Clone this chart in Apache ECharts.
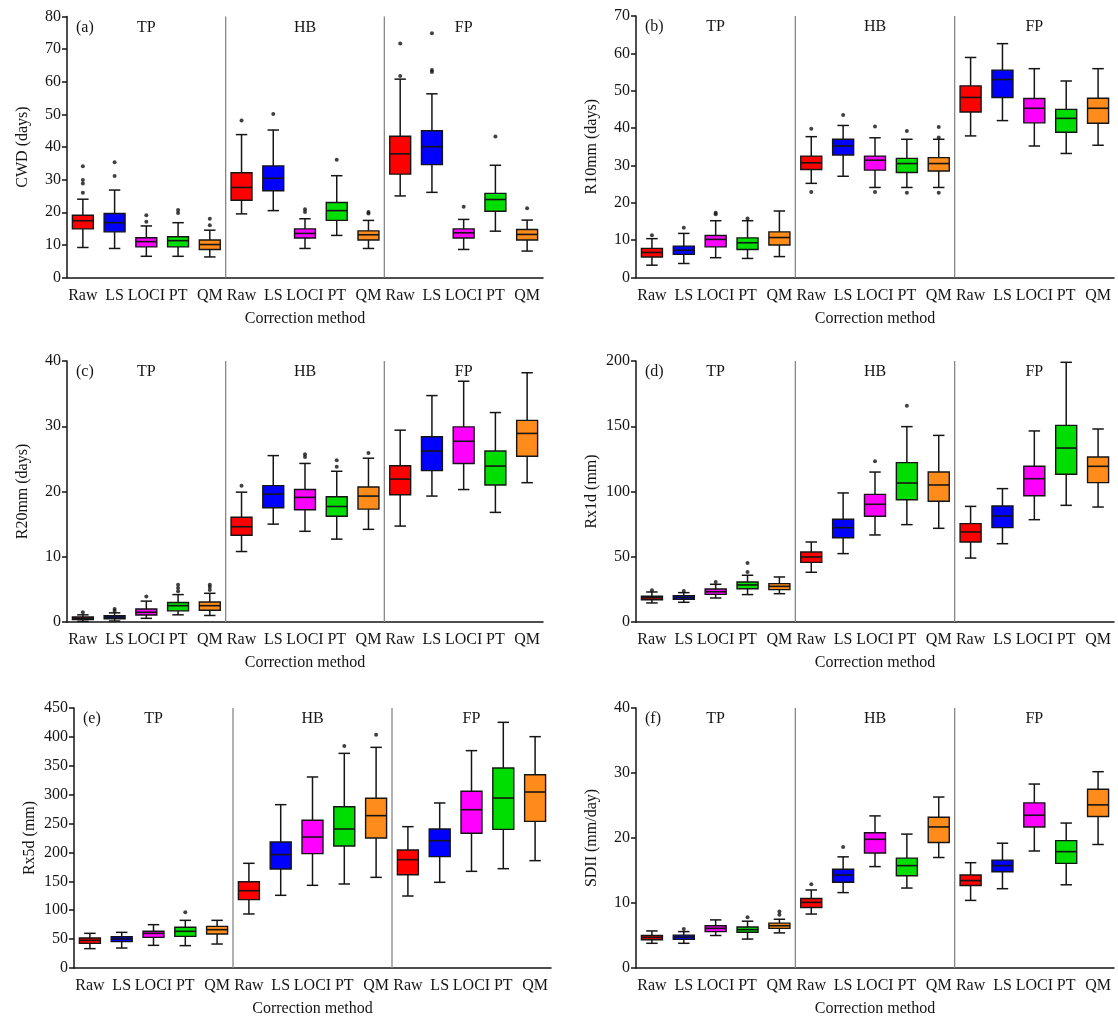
<!DOCTYPE html>
<html><head><meta charset="utf-8">
<script src="https://cdn.jsdelivr.net/npm/echarts@6/dist/echarts.min.js"></script>
<style>html,body{margin:0;padding:0;background:#fff}#c{width:1118px;height:1023px}</style>
</head><body><div id="c"></div>
<script>
// ---- categories ----
const regions = ['TP', 'HB', 'FP'];
const methods = ['Raw', 'LS', 'LOCI', 'PT', 'QM'];
const categories = [];
regions.forEach(r => methods.forEach(m => categories.push(r + '|' + m)));

// ---- box values: [lower whisker, Q1, median, Q3, upper whisker] per category ----
const cwdBox = [
  [9.2, 14.9, 17.4, 19.1, 24.0], [8.9, 14.0, 16.8, 19.6, 26.8], [6.5, 9.4, 11.0, 12.2, 15.8], [6.5, 9.4, 11.3, 12.5, 16.8], [6.3, 8.6, 10.1, 11.5, 14.5],
  [19.5, 23.7, 27.6, 32.1, 43.8], [20.5, 26.6, 30.4, 34.2, 45.2], [8.9, 12.1, 13.5, 14.9, 18.0], [12.9, 17.5, 20.5, 23.0, 31.2], [8.9, 11.5, 13.1, 14.3, 17.5],
  [25.0, 31.7, 37.9, 43.3, 60.8], [26.1, 34.6, 40.1, 45.0, 56.3], [8.6, 12.1, 13.7, 14.9, 17.8], [14.2, 20.3, 23.9, 25.8, 34.4], [8.1, 11.5, 13.2, 14.7, 17.6]
];
const cwdOut = [[0,34.1],[0,29.9],[0,28.8],[0,26.0],[1,35.3],[1,31.1],[2,19.1],[2,17.1],[3,20.7],[3,19.8],[4,18.0],[4,16.0],
  [5,48.1],[6,50.1],[7,20.9],[7,20.1],[8,36.1],[9,20.1],[9,19.6],[10,71.7],[10,61.8],[11,74.9],[11,63.6],[11,63.0],[12,21.7],[13,43.2],[14,21.2]];

const r10Box = [
  [3.3, 5.5, 6.7, 7.8, 10.4], [3.75, 6.2, 7.3, 8.4, 11.8], [5.3, 8.2, 10.2, 11.25, 15.2], [5.1, 7.5, 9.3, 10.6, 15.2], [5.6, 8.7, 10.7, 12.2, 17.8],
  [25.2, 28.9, 30.7, 32.5, 37.7], [27.1, 32.8, 35.2, 37.0, 40.7], [24.1, 28.75, 31.4, 32.5, 37.4], [24.1, 28.1, 30.5, 31.9, 37.0], [24.1, 28.5, 30.5, 32.1, 37.0],
  [37.9, 44.3, 48.2, 51.3, 58.9], [42.0, 48.2, 53.0, 55.5, 62.6], [35.2, 41.4, 45.3, 47.9, 55.9], [33.2, 38.9, 42.6, 45.0, 52.6], [35.4, 41.3, 45.3, 48.0, 55.9]
];
const r10Out = [[0,11.3],[1,13.3],[2,17.3],[2,16.9],[3,15.8],[5,39.8],[5,22.9],[6,43.5],[7,40.4],[7,22.9],[8,39.2],[8,22.7],[9,40.3],[9,37.5],[9,22.7]];

const r20Box = [
  [0.1, 0.36, 0.56, 0.76, 1.1], [0.15, 0.5, 0.76, 0.97, 1.4], [0.56, 1.07, 1.5, 2.0, 3.2], [1.1, 1.7, 2.5, 3.0, 4.2], [1.0, 1.8, 2.5, 3.06, 4.4],
  [10.8, 13.3, 14.6, 16.05, 19.9], [15.0, 17.5, 19.6, 20.9, 25.5], [13.9, 17.2, 19.1, 20.3, 24.3], [12.7, 16.2, 17.7, 19.2, 23.1], [14.2, 17.3, 19.3, 20.7, 25.1],
  [14.7, 19.5, 21.9, 23.95, 29.4], [19.3, 23.2, 26.2, 28.4, 34.7], [20.3, 24.3, 27.7, 29.9, 36.9], [16.8, 21.0, 23.9, 26.2, 32.1], [21.35, 25.4, 28.9, 30.9, 38.2]
];
const r20Out = [[0,1.5],[1,2.0],[1,1.7],[2,3.9],[3,5.7],[3,5.2],[3,4.7],[4,5.7],[4,5.35],[4,4.9],[5,20.9],[7,25.7],[7,25.3],[8,24.8],[8,23.8],[9,25.9]];

const rx1Box = [
  [14.6, 17.1, 18.6, 19.7, 23.0], [15.1, 17.4, 18.9, 20.2, 22.5], [18.4, 21.2, 23.2, 25.3, 28.9], [21.0, 25.5, 28.4, 30.7, 35.8], [21.7, 24.8, 27.3, 29.4, 34.5],
  [38.1, 45.7, 49.8, 53.6, 61.3], [52.4, 64.6, 72.3, 78.7, 98.9], [66.7, 81.0, 90.2, 97.8, 114.9], [74.6, 93.7, 106.5, 122.1, 149.7], [71.8, 92.5, 105.0, 114.9, 143.0],
  [49.0, 61.3, 69.0, 75.4, 88.6], [60.0, 72.3, 81.2, 88.9, 102.2], [78.4, 96.8, 109.8, 119.3, 146.4], [89.4, 113.2, 133.3, 150.7, 199.0], [88.1, 106.8, 119.3, 126.4, 147.9]
];
const rx1Out = [[0,24.3],[1,23.8],[2,30.7],[3,45.2],[3,38.3],[7,123.1],[8,165.8]];

const rx5Box = [
  [33.5, 42.7, 47.9, 52.0, 60.0], [34.6, 45.6, 50.2, 54.2, 61.7], [39.2, 53.0, 60.0, 63.5, 75.0], [38.7, 54.8, 63.5, 70.4, 82.5], [41.5, 58.8, 66.3, 72.1, 82.5],
  [93.5, 118.3, 133.8, 149.4, 181.2], [125.8, 171.3, 196.2, 218.1, 282.7], [143.1, 197.9, 226.7, 255.6, 330.6], [145.4, 211.2, 240.6, 279.2, 371.5], [156.9, 225.0, 263.7, 293.7, 381.9],
  [124.6, 161.5, 187.5, 204.2, 244.6], [148.3, 192.7, 220.4, 240.6, 285.6], [167.3, 233.1, 274.0, 305.8, 376.2], [171.9, 240.0, 294.2, 346.2, 425.2], [185.8, 253.8, 304.6, 334.6, 400.4]
];
const rx5Out = [[3,96.3],[8,384.2],[9,403.8]];

const sdiiBox = [
  [3.8, 4.35, 4.7, 5.0, 5.7], [3.8, 4.4, 4.76, 5.06, 5.6], [5.0, 5.6, 6.1, 6.5, 7.4], [4.45, 5.5, 5.9, 6.3, 7.2], [5.4, 6.1, 6.5, 6.9, 7.5],
  [8.3, 9.3, 10.1, 10.7, 12.0], [11.6, 13.2, 14.3, 15.2, 17.1], [15.6, 17.7, 19.8, 20.8, 23.4], [12.3, 14.2, 15.75, 16.9, 20.6], [17.0, 19.3, 21.7, 23.2, 26.3],
  [10.4, 12.7, 13.45, 14.3, 16.2], [12.2, 14.8, 15.75, 16.6, 19.2], [18.0, 21.7, 23.5, 25.4, 28.3], [12.8, 16.1, 17.9, 19.6, 22.3], [19.0, 23.3, 25.1, 27.5, 30.2]
];
const sdiiOut = [[1,6.0],[3,7.8],[4,8.7],[4,8.2],[5,12.9],[6,18.6]];

// ---- axis settings (tick ranges) ----
const yMax = [80, 70, 40, 200, 450, 40];
const yStep = [10, 10, 10, 50, 50, 10];
const yNames = ['CWD (days)', 'R10mm (days)', 'R20mm (days)', 'Rx1d (mm)', 'Rx5d (mm)', 'SDII (mm/day)'];
const panelTags = ['(a)', '(b)', '(c)', '(d)', '(e)', '(f)'];
const boxSets = [cwdBox, r10Box, r20Box, rx1Box, rx5Box, sdiiBox];
const outSets = [cwdOut, r10Out, r20Out, rx1Out, rx5Out, sdiiOut];

// ---- styling / layout ----
const FONT = '"Liberation Serif", "Times New Roman", serif';
const TXT = '#151515';
const methodColors = ['#FF0000', '#0000FF', '#FF00FF', '#00DD00', '#FF8C1A'];
const grids = [
  {left: 67, top: 16.5, width: 476, height: 261},
  {left: 636, top: 16, width: 478, height: 261.5},
  {left: 67, top: 361, width: 476, height: 261},
  {left: 636, top: 361, width: 478, height: 261},
  {left: 74, top: 708, width: 477, height: 260},
  {left: 636, top: 708, width: 478, height: 260}
];
const INK = '#151515';

function renderBox(params, api) {
  const idx = api.value(0);
  const lo = api.coord([idx, api.value(1)]);
  const q1 = api.coord([idx, api.value(2)]);
  const md = api.coord([idx, api.value(3)]);
  const q3 = api.coord([idx, api.value(4)]);
  const hi = api.coord([idx, api.value(5)]);
  const band = api.size([1, 0])[0];
  const bw = band * 0.66, cw = band * 0.36;
  const x = lo[0];
  const ls = {stroke: INK, lineWidth: 1.5};
  return {type: 'group', children: [
    {type: 'line', shape: {x1: x, y1: lo[1], x2: x, y2: q1[1]}, style: ls},
    {type: 'line', shape: {x1: x, y1: q3[1], x2: x, y2: hi[1]}, style: ls},
    {type: 'line', shape: {x1: x - cw / 2, y1: lo[1], x2: x + cw / 2, y2: lo[1]}, style: ls},
    {type: 'line', shape: {x1: x - cw / 2, y1: hi[1], x2: x + cw / 2, y2: hi[1]}, style: ls},
    {type: 'rect', shape: {x: x - bw / 2, y: q3[1], width: bw, height: q1[1] - q3[1]},
      style: {fill: methodColors[idx % 5], stroke: INK, lineWidth: 1.4}},
    {type: 'line', shape: {x1: x - bw / 2, y1: md[1], x2: x + bw / 2, y2: md[1]}, style: {stroke: INK, lineWidth: 1.6}}
  ]};
}

function makeRegionRenderer(tag) {
  return function (params, api) {
    const r = api.value(0);
    const cs = params.coordSys;
    const per = methods.length;
    const c = api.coord([r * per + 2, 0]);
    const children = [{type: 'text', style: {text: regions[r], x: c[0], y: cs.y + 11,
      align: 'center', verticalAlign: 'middle', font: '16px ' + FONT, fill: TXT}}];
    if (r < regions.length - 1) {
      const a = api.coord([r * per + per - 1, 0]);
      const b = api.coord([r * per + per, 0]);
      const sx = (a[0] + b[0]) / 2;
      children.push({type: 'line', shape: {x1: sx, y1: cs.y, x2: sx, y2: cs.y + cs.height},
        style: {stroke: '#888888', lineWidth: 1.3}});
    }
    if (r === 0) {
      children.push({type: 'text', style: {text: tag, x: cs.x + 9, y: cs.y + 11,
        align: 'left', verticalAlign: 'middle', font: '16px ' + FONT, fill: TXT}});
    }
    return {type: 'group', children};
  };
}

const option = {
  backgroundColor: '#fff',
  animation: false,
  grid: grids,
  xAxis: grids.map((g, i) => ({
    type: 'category', gridIndex: i, data: categories, boundaryGap: true,
    axisLine: {lineStyle: {color: INK, width: 1.5}},
    axisTick: {alignWithLabel: true, length: 5, lineStyle: {color: INK, width: 1.5}},
    axisLabel: {interval: 0, margin: 10, color: TXT, fontFamily: FONT, fontSize: 16,
      formatter: v => v.split('|')[1]},
    splitLine: {show: false},
    name: 'Correction method', nameLocation: 'middle', nameGap: 33,
    nameTextStyle: {fontFamily: FONT, fontSize: 16, color: TXT}
  })),
  yAxis: grids.map((g, i) => ({
    type: 'value', gridIndex: i, min: 0, max: yMax[i], interval: yStep[i],
    axisLine: {show: true, lineStyle: {color: INK, width: 1.5}},
    axisTick: {show: true, length: 5, lineStyle: {color: INK, width: 1.5}},
    axisLabel: {margin: 6, color: TXT, fontFamily: FONT, fontSize: 16},
    splitLine: {show: false},
    name: yNames[i], nameLocation: 'middle', nameGap: 36,
    nameTextStyle: {fontFamily: FONT, fontSize: 16, color: TXT}
  })),
  series: []
};

boxSets.forEach((box, i) => {
  option.series.push({
    type: 'custom', xAxisIndex: i, yAxisIndex: i, renderItem: makeRegionRenderer(panelTags[i]),
    data: regions.map((r, k) => [k]), silent: true, z: 1
  });
  option.series.push({
    type: 'custom', xAxisIndex: i, yAxisIndex: i, renderItem: renderBox,
    encode: {x: 0, y: [1, 2, 3, 4, 5]},
    data: box.map((b, k) => [k].concat(b)), z: 2
  });
  option.series.push({
    type: 'scatter', xAxisIndex: i, yAxisIndex: i, data: outSets[i],
    symbol: 'circle', symbolSize: 4, itemStyle: {color: '#111'}, z: 3, silent: true
  });
});

const chart = echarts.init(document.getElementById('c'), null, {renderer: 'canvas'});
chart.setOption(option);
</script>
</body></html>
